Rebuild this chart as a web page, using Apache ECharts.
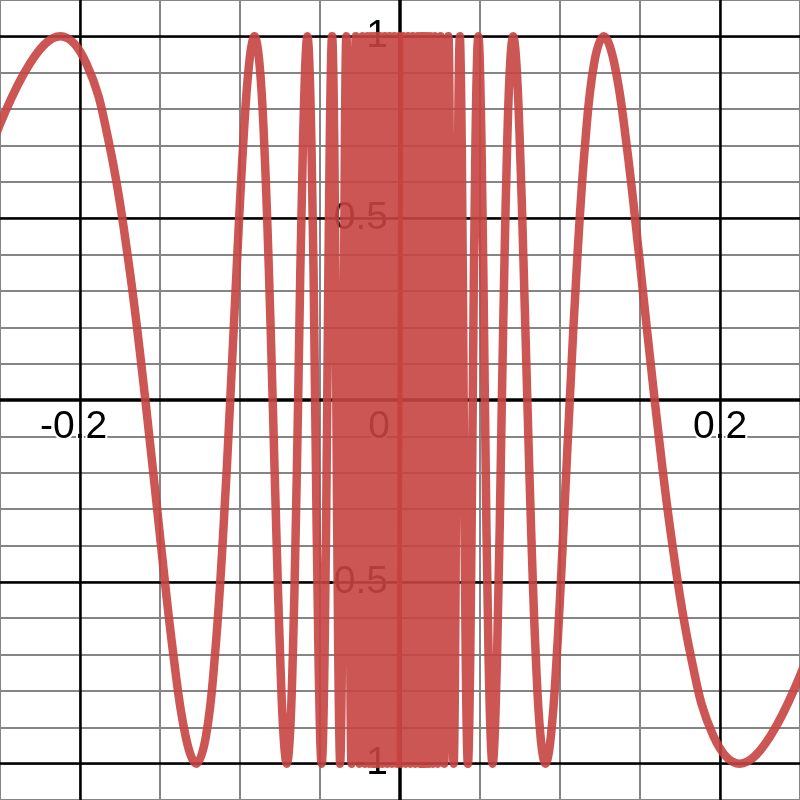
<!DOCTYPE html>
<html><head><meta charset="utf-8">
<script src="https://cdn.jsdelivr.net/npm/echarts@6/dist/echarts.min.js"></script>
<style>html,body{margin:0;padding:0;background:#fff}#c{width:800px;height:800px}</style>
</head><body><div id="c"></div>
<script>
// curve points (left branch, x < 0)
const negX = [-0.254648, -0.231498, -0.212207, -0.195883, -0.181891, -0.169765, -0.159155, -0.149793, -0.141471, -0.134025,
  -0.127324, -0.121261, -0.115749, -0.110716, -0.106103, -0.101859, -0.097942, -0.094314, -0.090946, -0.087810,
  -0.084883, -0.082145, -0.079577, -0.077166, -0.074896, -0.072757, -0.070736, -0.068824, -0.067013, -0.065294, -0.063662,
  -0.060630, -0.057875, -0.055358, -0.053052, -0.050930, -0.048971, -0.047157, -0.045473, -0.043905, -0.042441,
  -0.041072, -0.039789, -0.038583,
  -0.037448, -0.033506, -0.030315, -0.027679, -0.025465, -0.023579, -0.021952, -0.020536, -0.019292, -0.018189,
  -0.017206, -0.016324, -0.015527, -0.014805, -0.014147, -0.013545, -0.012992, -0.012483,
  -0.011, -0.0095, -0.008, -0.0065, -0.005, -0.0035, -0.002, -0.0005];
const negY = [0.707, 0.924, 1, 0.924, 0.707, 0.383, 0, -0.383, -0.707, -0.924,
  -1, -0.924, -0.707, -0.383, 0, 0.383, 0.707, 0.924, 1, 0.924,
  0.707, 0.383, 0, -0.383, -0.707, -0.924, -1, -0.924, -0.707, -0.383, 0,
  0.707, 1, 0.707, 0, -0.707, -1, -0.707, 0, 0.707, 1,
  0.707, 0, -0.707,
  -1, 1, -1, 1, -1, 1, -1, 1, -1, 1,
  -1, 1, -1, 1, -1, 1, -1, 1,
  -1, 1, -1, 1, -1, 1, -1, 1];
// right branch, x > 0
const posX = [0.0005, 0.002, 0.0035, 0.005, 0.0065, 0.008, 0.0095, 0.011,
  0.012483, 0.012992, 0.013545, 0.014147, 0.014805, 0.015527, 0.016324, 0.017206, 0.018189,
  0.019292, 0.020536, 0.021952, 0.023579, 0.025465, 0.027679, 0.030315, 0.033506, 0.037448,
  0.038583, 0.039789, 0.041072, 0.042441, 0.043905, 0.045473, 0.047157, 0.048971, 0.050930, 0.053052,
  0.055358, 0.057875, 0.060630,
  0.063662, 0.065294, 0.067013, 0.068824, 0.070736, 0.072757, 0.074896, 0.077166, 0.079577, 0.082145,
  0.084883, 0.087810, 0.090946, 0.094314, 0.097942, 0.101859, 0.106103, 0.110716, 0.115749, 0.121261,
  0.127324, 0.134025, 0.141471, 0.149793, 0.159155, 0.169765, 0.181891, 0.195883, 0.212207, 0.231498, 0.254648];
const posY = [-1, 1, -1, 1, -1, 1, -1, 1,
  -1, 1, -1, 1, -1, 1, -1, 1, -1,
  1, -1, 1, -1, 1, -1, 1, -1, 1,
  0.707, 0, -0.707, -1, -0.707, 0, 0.707, 1, 0.707, 0,
  -0.707, -1, -0.707,
  0, 0.383, 0.707, 0.924, 1, 0.924, 0.707, 0.383, 0, -0.383,
  -0.707, -0.924, -1, -0.924, -0.707, -0.383, 0, 0.383, 0.707, 0.924,
  1, 0.924, 0.707, 0.383, 0, -0.383, -0.707, -0.924, -1, -0.924, -0.707];

const xLabelValues = [-0.2, 0, 0.2];
const xLabelTexts = ['-0.2{p| }', '0{q| }', '0.2'];
const yLabelValues = [-1, -0.5, 0.5, 1];
const yLabelTexts = ['-1', '-0.5', '0.5', '1'];
const majorX = [-0.2, 0.2];
const majorY = [-1, -0.5, 0.5, 1];

const near = (a, b) => Math.abs(a - b) < 1e-6;
function pick(vals, texts, v) {
  for (let i = 0; i < vals.length; i++) if (near(vals[i], Number(v))) return texts[i];
  return '';
}
const pairs = (xs, ys) => xs.map((x, i) => [x, ys[i]]);

const FONT = 'Liberation Sans, Arial, sans-serif';
const labelStyle = {
  fontFamily: FONT, fontSize: 39, color: '#000',
  textBorderColor: '#fff', textBorderWidth: 4
};
const X0 = -0.25, X1 = 0.25, Y0 = -1.1, Y1 = 1.1;
const lineStyle = { color: '#c74440', width: 8.5, opacity: 0.9, cap: 'round', join: 'round' };

const chart = echarts.init(document.getElementById('c'), null, { renderer: 'canvas' });
chart.setOption({
  animation: false,
  backgroundColor: '#fff',
  grid: { left: 0, right: 0, top: 0, bottom: 0, containLabel: false, outerBoundsMode: 'none' },
  xAxis: [
    { type: 'value', min: X0, max: X1, interval: 0.05, z: 3, position: 'bottom', offset: -400,
      axisLine: { show: true, onZero: false, lineStyle: { color: '#000', width: 3.5 } },
      axisTick: { show: false }, splitLine: { show: false },
      axisLabel: Object.assign({ show: true, margin: 8, hideOverlap: false,
        formatter: v => pick(xLabelValues, xLabelTexts, v),
        rich: { p: { width: 13 }, q: { width: 42 } } }, labelStyle) },
    { type: 'value', min: X0, max: X1, interval: 0.05, z: 0, position: 'top',
      axisLine: { show: false, onZero: false }, axisTick: { show: false }, axisLabel: { show: false },
      splitLine: { show: true, lineStyle: { color: '#858585', width: 2 } } }
  ],
  yAxis: [
    { type: 'value', min: Y0, max: Y1, interval: 0.1, z: 3, position: 'left', offset: -400,
      axisLine: { show: true, onZero: false, lineStyle: { color: '#000', width: 3.5 } },
      axisTick: { show: false }, splitLine: { show: false },
      axisLabel: Object.assign({ show: true, margin: 12, hideOverlap: false, padding: [0, 0, 7, 0],
        formatter: v => pick(yLabelValues, yLabelTexts, v) }, labelStyle) },
    { type: 'value', min: Y0, max: Y1, interval: 0.1, z: 0, position: 'right',
      axisLine: { show: false, onZero: false }, axisTick: { show: false }, axisLabel: { show: false },
      splitLine: { show: true, lineStyle: { color: '#858585', width: 2 } } }
  ],
  series: [
    { type: 'line', name: 'major', z: 2, silent: true, showSymbol: false,
      data: [[0, 0]], lineStyle: { width: 0 },
      markLine: { silent: true, symbol: ['none', 'none'], label: { show: false },
        lineStyle: { color: '#000', width: 2.5, type: 'solid' },
        data: majorX.map(v => ({ xAxis: v })).concat(majorY.map(v => ({ yAxis: v }))) } },
    { type: 'line', name: 'left', z: 5, data: pairs(negX, negY), showSymbol: false,
      smooth: 0.4, lineStyle: lineStyle },
    { type: 'line', name: 'right', z: 5, data: pairs(posX, posY), showSymbol: false,
      smooth: 0.4, lineStyle: lineStyle }
  ]
});
</script>
</body></html>
